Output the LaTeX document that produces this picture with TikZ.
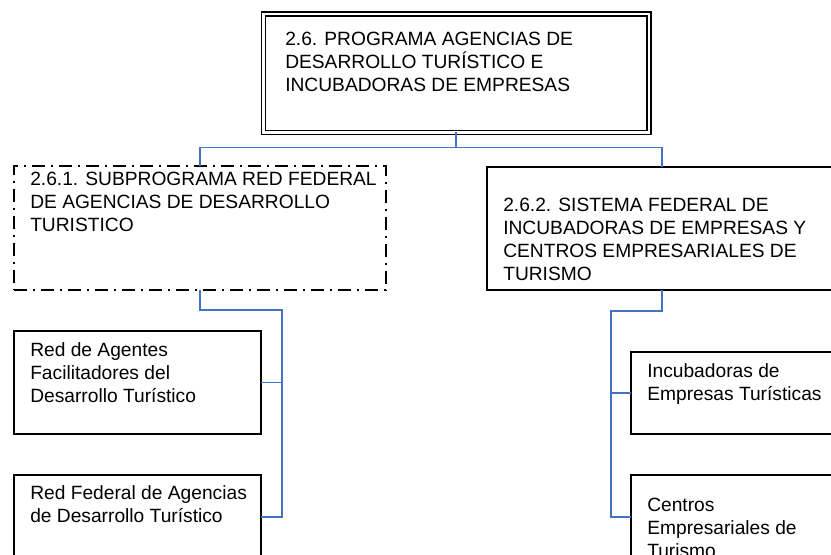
\documentclass[tikz,border=0pt]{standalone}
\usepackage{fontspec}
\setmainfont{Liberation Sans}
\definecolor{linkblue}{RGB}{68,114,196}
\begin{document}
\begin{tikzpicture}[x=0.75pt,y=-0.75pt,line join=miter,
    font=\fontsize{14.4pt}{17.3pt}\selectfont,
    frame/.style={draw=black,line width=1.35pt,anchor=north west,inner sep=0pt,outer sep=0pt},
    dframe/.style={frame,line width=0.85pt,double,double distance=2.2pt},
    ddframe/.style={frame,line width=1.6pt,dash pattern=on 9.75pt off 4.5pt on 1.5pt off 4.5pt},
    txt/.style={anchor=north west,inner sep=0pt,align=left},
    link/.style={draw=linkblue,line width=1.4pt}]
    \useasboundingbox(0,0)rectangle(831,555);
    \clip(0,0)rectangle(831,555);
    \node[dframe,minimum width=385.5*0.75pt,minimum height=118.5*0.75pt](prog)at(263.5,14){};
    \node[txt](prog-t)at([shift={(21.5,18)}]prog.north west){2.6. PROGRAMA AGENCIAS DE\\DESARROLLO TURÍSTICO E\\INCUBADORAS DE EMPRESAS};
    \node[ddframe,minimum width=372*0.75pt,minimum height=124*0.75pt](red)at(14,166){};
    \node[txt](red-t)at([shift={(16,6)}]red.north west){2.6.1. SUBPROGRAMA RED FEDERAL\\DE AGENCIAS DE DESARROLLO\\TURISTICO};
    \node[frame,minimum width=350*0.75pt,minimum height=123*0.75pt](sis)at(487,167){};
    \node[txt](sis-t)at([shift={(16,31)}]sis.north west){2.6.2. SISTEMA FEDERAL DE\\INCUBADORAS DE EMPRESAS Y\\CENTROS EMPRESARIALES DE\\TURISMO};
    \node[frame,minimum width=247*0.75pt,minimum height=103*0.75pt](agentes)at(14,331){};
    \node[txt](agentes-t)at([shift={(16,11)}]agentes.north west){Red de Agentes\\Facilitadores del\\Desarrollo Turístico};
    \node[frame,minimum width=247*0.75pt,minimum height=84*0.75pt](agencias)at(14,475){};
    \node[txt](agencias-t)at([shift={(16,10)}]agencias.north west){Red Federal de Agencias\\de Desarrollo Turístico};
    \node[frame,minimum width=250*0.75pt,minimum height=82*0.75pt](incub)at(631,352){};
    \node[txt](incub-t)at([shift={(16,11)}]incub.north west){Incubadoras de\\Empresas Turísticas};
    \node[frame,minimum width=250*0.75pt,minimum height=84*0.75pt](centros)at(631,475){};
    \node[txt](centros-t)at([shift={(16,23)}]centros.north west){Centros\\Empresariales de\\Turismo};
    \coordinate(lbus)at(282,310);
    \coordinate(rbus)at(611,311);
    \draw[link](prog.south)--++(0,15)-|(red.north);
    \draw[link](prog.south)--++(0,15)-|(sis.north);
    \draw[link](red.south)|-(lbus)|-(agencias.east);
    \draw[link](lbus|-agentes.east)--(agentes.east);
    \draw[link](sis.south)|-(rbus)|-(centros.west);
    \draw[link](rbus|-incub.west)--(incub.west);
\end{tikzpicture}
\end{document}
